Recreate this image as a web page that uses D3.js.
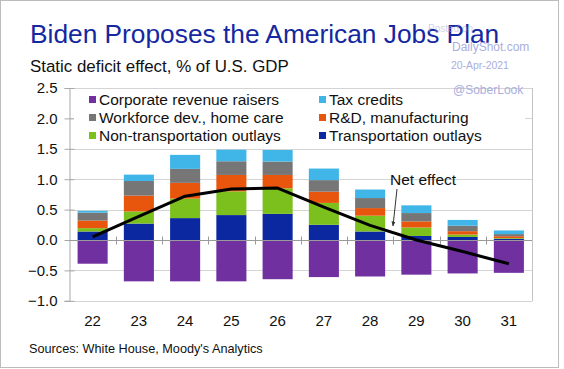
<!DOCTYPE html>
<html>
<head>
<meta charset="utf-8">
<script src="https://cdn.jsdelivr.net/npm/d3@7"></script>
<style>
  html, body { margin: 0; padding: 0; background: #fff; }
  svg { display: block; font-family: "Liberation Sans", Arial, sans-serif; }
</style>
</head>
<body>
<svg id="chart" width="564" height="369"></svg>
<script>
// ---- data ----
const years = ["22", "23", "24", "25", "26", "27", "28", "29", "30", "31"];
const transportation    = [0.14, 0.27, 0.36, 0.41, 0.43, 0.25, 0.14, 0.066, 0.05, 0.02];
const nonTransportation = [0.055, 0.20, 0.32, 0.39, 0.42, 0.36, 0.26, 0.14, 0.04, 0.012];
const rnd               = [0.125, 0.26, 0.26, 0.27, 0.22, 0.185, 0.125, 0.10, 0.055, 0.03];
const workforce         = [0.13, 0.24, 0.23, 0.225, 0.22, 0.19, 0.165, 0.137, 0.09, 0.035];
const taxCredits        = [0.03, 0.105, 0.23, 0.19, 0.19, 0.19, 0.14, 0.127, 0.095, 0.06];
const corporate         = [-0.39, -0.68, -0.68, -0.68, -0.645, -0.61, -0.60, -0.57, -0.55, -0.54];
const netEffect         = [0.05, 0.39, 0.72, 0.84, 0.855, 0.54, 0.24, 0.0, -0.19, -0.39];
const yTicks = [-1.0, -0.5, 0.0, 0.5, 1.0, 1.5, 2.0, 2.5];

const seriesNames = ["Transportation outlays", "Non-transportation outlays", "R&D, manufacturing",
                     "Workforce dev., home care", "Tax credits"];
const seriesVals = [transportation, nonTransportation, rnd, workforce, taxCredits];
const colors = {
  "Corporate revenue raisers": "#7030a0",
  "Workforce dev., home care": "#767676",
  "Non-transportation outlays": "#7cc01e",
  "Tax credits": "#3fb5e8",
  "R&D, manufacturing": "#e8560e",
  "Transportation outlays": "#0b28a0"
};

// ---- layout ----
const svg = d3.select("#chart");
const pLeft = 69.5, pRight = 532, pTop = 88, pBottom = 300.8;
const x = d3.scaleBand().domain(years).range([pLeft, pRight]).paddingInner(0.35).paddingOuter(0.175);
const y = d3.scaleLinear().domain([-1, 2.5]).range([pBottom, pTop]);

// outer frame
svg.append("rect").attr("x", 0.5).attr("y", 0.5).attr("width", 558).attr("height", 367)
  .attr("fill", "#fff").attr("stroke", "#bcbcbc").attr("stroke-width", 1);

// titles
svg.append("text").attr("x", 30).attr("y", 43).attr("fill", "#1428a0")
  .attr("font-size", 26.3).text("Biden Proposes the American Jobs Plan");
svg.append("text").attr("x", 30).attr("y", 72).attr("fill", "#111")
  .attr("font-size", 16.9).text("Static deficit effect, % of U.S. GDP");

// gridlines
svg.append("g").selectAll("line").data(yTicks).join("line")
  .attr("x1", pLeft).attr("x2", pRight)
  .attr("y1", d => Math.round(y(d)) + 0.5).attr("y2", d => Math.round(y(d)) + 0.5)
  .attr("stroke", "#d4d4d4").attr("stroke-width", 1);
// right frame
svg.append("line").attr("x1", pRight + 0.5).attr("x2", pRight + 0.5).attr("y1", y(2.5)).attr("y2", y(-1) + 0.5)
  .attr("stroke", "#c4c4c4");

// y axis
const yAxis = d3.axisLeft(y).tickValues(yTicks).tickFormat(d3.format(".1f")).tickSize(5).tickPadding(7);
const gy = svg.append("g").attr("transform", `translate(${pLeft},0)`).call(yAxis);
gy.select(".domain").attr("stroke", "#a8a8a8");
gy.selectAll(".tick line").attr("stroke", "#a8a8a8").attr("x2", 5).attr("x1", -5);
gy.selectAll(".tick text").attr("font-size", 15).attr("fill", "#111")
  .attr("font-family", "'Liberation Sans', Arial, sans-serif").attr("x", -12);

// stacked bars (positive)
const rows = years.map((yr, i) => {
  const o = { year: yr };
  seriesNames.forEach((s, j) => o[s] = seriesVals[j][i]);
  return o;
});
const stack = d3.stack().keys(seriesNames)(rows);
const gBars = svg.append("g");
stack.forEach(layer => {
  gBars.selectAll(null).data(layer).join("rect")
    .attr("x", d => x(d.data.year))
    .attr("width", x.bandwidth())
    .attr("y", d => y(d[1]))
    .attr("height", d => y(d[0]) - y(d[1]))
    .attr("fill", colors[layer.key]);
});
// negative bars
gBars.selectAll(null).data(corporate).join("rect")
  .attr("x", (d, i) => x(years[i]))
  .attr("width", x.bandwidth())
  .attr("y", y(0))
  .attr("height", d => y(d) - y(0))
  .attr("fill", colors["Corporate revenue raisers"]);

// zero line and category ticks
const zy = Math.round(y(0)) + 0.5;
svg.append("line").attr("x1", pLeft).attr("x2", pRight).attr("y1", zy).attr("y2", zy)
  .attr("stroke", "#9a9a9a");
const step = x.step();
const boundaries = years.slice(1).map(yr => x(yr) - x.paddingInner() * step / 2);
svg.append("g").selectAll("line").data(boundaries).join("line")
  .attr("x1", d => Math.round(d) + 0.5).attr("x2", d => Math.round(d) + 0.5)
  .attr("y1", zy - 4).attr("y2", zy + 4).attr("stroke", "#9a9a9a");

// x labels
svg.append("g").selectAll("text").data(years).join("text")
  .attr("x", d => x(d) + x.bandwidth() / 2).attr("y", 326)
  .attr("text-anchor", "middle").attr("font-size", 15).attr("fill", "#111").text(d => d);

// net effect line
const line = d3.line().x((d, i) => x(years[i]) + x.bandwidth() / 2).y(d => y(d));
svg.append("path").datum(netEffect).attr("d", line)
  .attr("fill", "none").attr("stroke", "#000").attr("stroke-width", 3).attr("stroke-linejoin", "round");

// net effect annotation
svg.append("text").attr("x", 390).attr("y", 185).attr("font-size", 15.5).attr("fill", "#111").text("Net effect");
svg.append("defs").append("marker").attr("id", "arr").attr("viewBox", "0 0 10 10")
  .attr("refX", 9).attr("refY", 5).attr("markerWidth", 5).attr("markerHeight", 5).attr("orient", "auto")
  .append("path").attr("d", "M0,1 L10,5 L0,9 z").attr("fill", "#333");
svg.append("line").attr("x1", 397).attr("y1", 189).attr("x2", 393).attr("y2", 226)
  .attr("stroke", "#333").attr("stroke-width", 1).attr("marker-end", "url(#arr)");

// legend (white box on top of plot)
svg.append("rect").attr("x", 74).attr("y", 89).attr("width", 451).attr("height", 58).attr("fill", "#fff");
const legendItems = [
  { name: "Corporate revenue raisers", col: 0, row: 0 },
  { name: "Workforce dev., home care", col: 0, row: 1 },
  { name: "Non-transportation outlays", col: 0, row: 2 },
  { name: "Tax credits", col: 1, row: 0 },
  { name: "R&D, manufacturing", col: 1, row: 1 },
  { name: "Transportation outlays", col: 1, row: 2 }
];
const colX = [89, 319], rowY = [99.5, 117.5, 135.5];
const lg = svg.append("g").selectAll("g").data(legendItems).join("g")
  .attr("transform", d => `translate(${colX[d.col]},${rowY[d.row]})`);
lg.append("rect").attr("x", 0).attr("y", -3.5).attr("width", 7).attr("height", 7).attr("fill", d => colors[d.name]);
lg.append("text").attr("x", 10).attr("y", 5.5).attr("font-size", 15.5).attr("fill", "#111").text(d => d.name);

// watermark
const wm = "#a9aedd";
svg.append("text").attr("x", 428).attr("y", 32).attr("font-size", 10).attr("fill", wm).attr("opacity", 0.55).text("Posted on");
svg.append("text").attr("x", 452).attr("y", 51).attr("font-size", 12).attr("fill", wm).text("DailyShot.com");
svg.append("text").attr("x", 451).attr("y", 69).attr("font-size", 10.4).attr("fill", wm).text("20-Apr-2021");
svg.append("text").attr("x", 453).attr("y", 94).attr("font-size", 12).attr("fill", wm).text("@SoberLook");

// source
svg.append("text").attr("x", 29).attr("y", 353).attr("font-size", 12.7).attr("fill", "#111")
  .text("Sources: White House, Moody's Analytics");
</script>
</body>
</html>
